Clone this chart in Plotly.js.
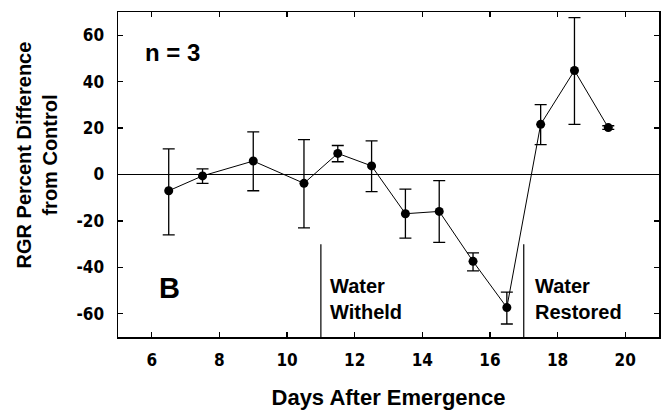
<!DOCTYPE html>
<html>
<head>
<meta charset="utf-8">
<script src="https://cdn.plot.ly/plotly-3.0.1.min.js"></script>
<style>html,body{margin:0;padding:0;background:#fff;}#chart{width:668px;height:410px;}</style>
</head>
<body>
<div id="chart"></div>
<script>
// Data
var days = [6.5, 7.5, 9, 10.5, 11.5, 12.5, 13.5, 14.5, 15.5, 16.5, 17.5, 18.5, 19.5];
var rgrDiff = [-7, -0.6, 5.8, -3.8, 9.1, 3.7, -16.9, -15.9, -37.4, -57.3, 21.6, 44.8, 20.2];
var errPlus = [18, 3, 12.6, 18.8, 3.4, 10.8, 10.6, 13.3, 3.6, 6.6, 8.5, 22.8, 0.8];
var errMinus = [19, 3.2, 12.8, 19.2, 3.6, 11.1, 10.5, 13.3, 4.1, 7.1, 8.7, 23.2, 0.8];
var eventDays = [11, 17];
var eventTop = -30;
var xTicks = [6, 8, 10, 12, 14, 16, 18, 20];
var yTicks = [-60, -40, -20, 0, 20, 40, 60];

var FONT = 'Liberation Sans, Arial, sans-serif';
var TICKFONT = 'DejaVu Sans Condensed, Liberation Sans, Arial, sans-serif';

var trace = {
  x: days,
  y: rgrDiff,
  mode: 'lines+markers',
  type: 'scatter',
  line: {color: '#000', width: 1},
  marker: {color: '#000', size: 9, symbol: 'circle'},
  error_y: {
    type: 'data', symmetric: false,
    array: errPlus, arrayminus: errMinus,
    color: '#000', thickness: 1.3, width: 6
  },
  hoverinfo: 'x+y'
};

var shapes = eventDays.map(function (d) {
  return {type: 'line', xref: 'x', yref: 'y', x0: d, x1: d, y0: -70, y1: eventTop,
          line: {color: '#000', width: 1.2}};
});

var layout = {
  width: 668, height: 410,
  margin: {l: 118, r: 9, t: 12, b: 73},
  paper_bgcolor: '#fff', plot_bgcolor: '#fff',
  showlegend: false,
  font: {family: FONT, color: '#000'},
  xaxis: {
    range: [5, 21], tickvals: xTicks, ticktext: xTicks.map(String),
    ticks: 'inside', ticklen: 5, tickwidth: 1.3, tickcolor: '#000',
    showline: true, linecolor: '#000', linewidth: 1.5, mirror: 'ticks',
    showgrid: false, zeroline: false,
    tickfont: {family: TICKFONT, size: 17, weight: 'bold', color: '#000'},
    ticklabelstandoff: 7,
    title: {text: '<b>Days After Emergence</b>', font: {family: FONT, size: 22, color: '#000'}, standoff: 21}
  },
  yaxis: {
    range: [-70, 70], tickvals: yTicks, ticktext: yTicks.map(String),
    ticks: 'inside', ticklen: 5, tickwidth: 1.3, tickcolor: '#000',
    showline: true, linecolor: '#000', linewidth: 1.5, mirror: 'ticks',
    showgrid: false, zeroline: true, zerolinecolor: '#000', zerolinewidth: 1.2,
    tickfont: {family: TICKFONT, size: 17, weight: 'bold', color: '#000'},
    ticklabelstandoff: 9
  },
  shapes: shapes,
  annotations: [
    {xref: 'paper', yref: 'paper', x: -0.149, y: 0.56, textangle: -90, showarrow: false,
     text: '<b>RGR Percent Difference<br>from Control</b>', font: {family: FONT, size: 20, color: '#000'},
     xanchor: 'center', yanchor: 'middle'},
    {xref: 'x', yref: 'y', x: 6.6, y: 52.5, showarrow: false, text: '<b>n = 3</b>',
     font: {family: FONT, size: 24, color: '#000'}, xanchor: 'center', yanchor: 'middle'},
    {xref: 'x', yref: 'y', x: 6.53, y: -49, showarrow: false, text: '<b>B</b>',
     font: {family: FONT, size: 29, color: '#000'}, xanchor: 'center', yanchor: 'middle'},
    {xref: 'x', yref: 'y', x: 11.2, y: -53.5, showarrow: false, text: '<b>Water<br>Witheld</b>', align: 'left',
     font: {family: FONT, size: 20, color: '#000'}, xanchor: 'left', yanchor: 'middle'},
    {xref: 'x', yref: 'y', x: 17.27, y: -53.5, showarrow: false, text: '<b>Water<br>Restored</b>', align: 'left',
     font: {family: FONT, size: 20, color: '#000'}, xanchor: 'left', yanchor: 'middle'}
  ]
};

Plotly.newPlot('chart', [trace], layout, {displayModeBar: false, staticPlot: true});
</script>
</body>
</html>
